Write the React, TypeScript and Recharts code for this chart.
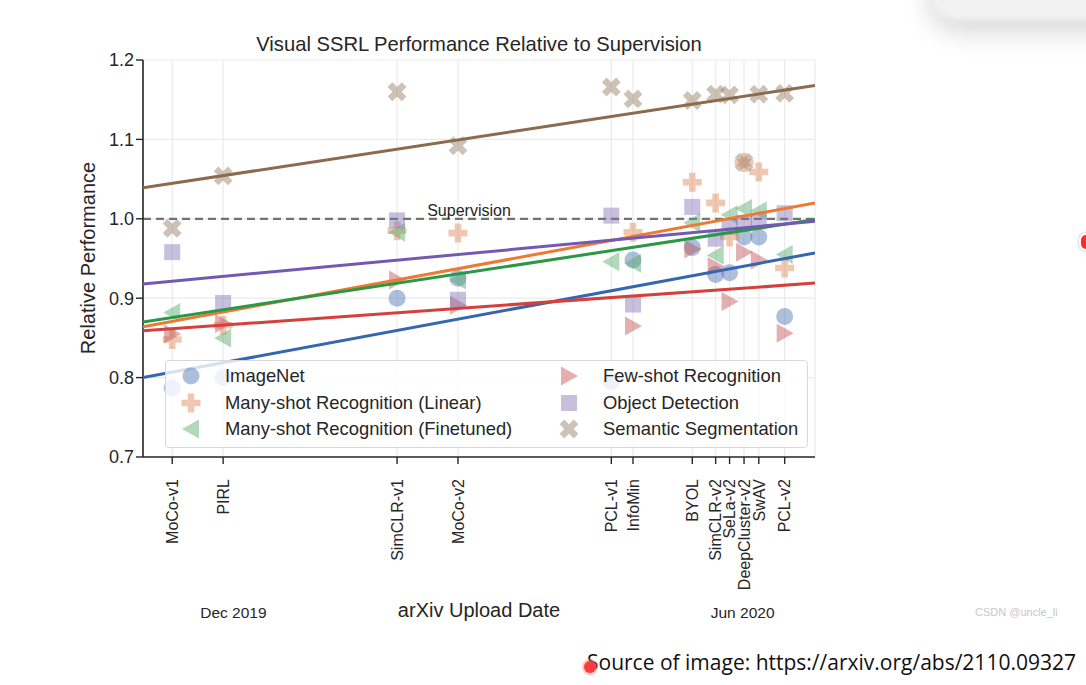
import React from 'react'
import { ScatterChart, Scatter, XAxis, YAxis, CartesianGrid, ReferenceLine } from 'recharts'

// methods on the x axis, upload date in days since 1 Dec 2019
const methods = ['MoCo-v1', 'PIRL', 'SimCLR-v1', 'MoCo-v2', 'PCL-v1', 'InfoMin', 'BYOL', 'SimCLR-v2', 'SeLa-v2', 'DeepCluster-v2', 'SwAV', 'PCL-v2']
const uploadDay = [-22, -3.7, 58.8, 80.7, 135.8, 143.6, 164.9, 173.3, 178.3, 183.5, 188.8, 198.1]
const monthTicks = [0, 183]
const monthLabels = ['Dec 2019', 'Jun 2020']
const yTicks = [0.7, 0.8, 0.9, 1.0, 1.1, 1.2]

// relative performance per task (null = not shown)
const imagenet = [0.787, 0.8, 0.9, 0.925, 0.795, 0.948, 0.964, 0.93, 0.932, 0.977, 0.977, 0.877]
const manyLinear = [0.848, 0.866, 0.985, 0.982, null, 0.983, 1.046, 1.02, 0.977, 1.071, 1.059, 0.938]
const manyFinetuned = [0.882, 0.85, 0.983, 0.923, 0.946, 0.944, 0.995, 0.954, 1.005, 1.013, 1.01, 0.955]
const fewShot = [0.855, 0.868, 0.923, 0.891, null, 0.865, 0.962, 0.94, 0.896, 0.958, 0.948, 0.856]
const detection = [0.958, 0.894, 0.998, 0.898, 1.004, 0.892, 1.015, 0.975, 0.99, 0.995, 0.997, 1.007]
const segmentation = [0.988, 1.054, 1.16, 1.092, 1.166, 1.151, 1.149, 1.157, 1.156, 1.071, 1.157, 1.158]

// fitted trend lines, value at the left and right end of the axis
const xDomain = [-32.5, 209]
const trendStart = [0.8, 0.864, 0.87, 0.859, 0.918, 1.039]
const trendEnd = [0.957, 1.02, 0.999, 0.919, 0.997, 1.168]

const seriesNames = ['ImageNet', 'Many-shot Recognition (Linear)', 'Many-shot Recognition (Finetuned)', 'Few-shot Recognition', 'Object Detection', 'Semantic Segmentation']
const seriesValues = [imagenet, manyLinear, manyFinetuned, fewShot, detection, segmentation]

const MARKERS = ['circle', 'plus', 'left', 'right', 'square', 'x']
const MARKER_COLORS = ['#4c72b0', '#dd8452', '#55a868', '#c44e52', '#8172b3', '#937860']
const LINE_COLORS = ['#3566b0', '#ec7a35', '#2b9847', '#d4403b', '#7359b1', '#8b6a4d']
const FONT = '"Liberation Sans", Arial, sans-serif'
const TXT = '#262626'

const crossPts = (a: number, t: number) => [
  [-t, -a], [t, -a], [t, -t], [a, -t], [a, t], [t, t], [t, a], [-t, a], [-t, t], [-a, t], [-a, -t], [-t, -t],
]

const Marker = ({ kind, cx, cy, fill }: { kind: string; cx: number; cy: number; fill: string }) => {
  const op = 0.45
  if (cx == null || cy == null) return <g />
  if (kind === 'circle') return <circle cx={cx} cy={cy} r={8.5} fill={fill} fillOpacity={op} />
  if (kind === 'square') return <rect x={cx - 8} y={cy - 8} width={16} height={16} fill={fill} fillOpacity={op} />
  if (kind === 'left') return <polygon points={`${cx - 9},${cy} ${cx + 8},${cy - 9.5} ${cx + 8},${cy + 9.5}`} fill={fill} fillOpacity={op} />
  if (kind === 'right') return <polygon points={`${cx + 9},${cy} ${cx - 8},${cy - 9.5} ${cx - 8},${cy + 9.5}`} fill={fill} fillOpacity={op} />
  if (kind === 'plus') {
    const pts = crossPts(9.5, 3.3).map(([x, y]) => `${cx + x},${cy + y}`).join(' ')
    return <polygon points={pts} fill={fill} fillOpacity={op} />
  }
  // filled "X"
  const pts = crossPts(10, 3.3)
    .map(([x, y]) => `${cx + (x - y) / Math.SQRT2},${cy + (x + y) / Math.SQRT2}`)
    .join(' ')
  return <polygon points={pts} fill={fill} fillOpacity={op} />
}

const XTick = ({ x, y, payload }: any) => {
  const name = methods[uploadDay.indexOf(payload.value)]
  const ty = y + 13
  return (
    <text x={x} y={ty} transform={`rotate(-90, ${x}, ${ty})`} textAnchor="end" dy="0.36em" fontSize={16} fill={TXT} fontFamily={FONT}>
      {name}
    </text>
  )
}

const LegendBox = () => (
  <div style={{
    position: 'absolute', left: 165, top: 360, width: 641, height: 86,
    background: 'rgba(255,255,255,0.8)', border: '1px solid #d8d8d8', borderRadius: 4,
  }}>
    {seriesNames.map((name, i) => {
      const col = Math.floor(i / 3)
      const row = i % 3
      return (
        <div key={name} style={{ position: 'absolute', left: 12 + col * 378, top: 2 + row * 26.5, height: 26, display: 'flex', alignItems: 'center' }}>
          <svg width={26} height={26}>
            <Marker kind={MARKERS[i]} cx={13} cy={13} fill={MARKER_COLORS[i]} />
          </svg>
          <span style={{ marginLeft: 21, fontSize: 18.4, color: TXT, fontFamily: FONT, whiteSpace: 'nowrap' }}>{name}</span>
        </div>
      )
    })}
  </div>
)

export default function App() {
  return (
    <div style={{ position: 'absolute', left: 0, top: 0, width: 1086, height: 685, background: '#fff', overflow: 'hidden', fontFamily: FONT }}>
      {/* soft shadow of a floating element in the screenshot, top right */}
      <div style={{ position: 'absolute', left: 930, top: -70, width: 200, height: 90, borderRadius: 30, background: 'rgba(0,0,0,0.05)', boxShadow: '0 10px 28px rgba(0,0,0,0.18)', filter: 'blur(3px)' }} />

      <div style={{ position: 'absolute', left: 143, width: 672, top: 33, textAlign: 'center', fontSize: 20.2, color: TXT }}>
        Visual SSRL Performance Relative to Supervision
      </div>
      <div style={{ position: 'absolute', left: 88, top: 258, transform: 'translate(-50%, -50%) rotate(-90deg)', fontSize: 20, color: TXT, whiteSpace: 'nowrap' }}>
        Relative Performance
      </div>

      <ScatterChart width={1086} height={685} margin={{ top: 60, right: 271, bottom: 0, left: 83 }} style={{ position: 'absolute', left: 0, top: 0 }}>
        <CartesianGrid xAxisId="main" stroke="#ebebeb" strokeWidth={1.2} />
        <XAxis
          xAxisId="main" type="number" dataKey="x" domain={xDomain} ticks={uploadDay} interval={0}
          allowDataOverflow height={228} tick={<XTick />} tickSize={7}
          tickLine={{ stroke: TXT, strokeWidth: 1.4 }} axisLine={{ stroke: TXT, strokeWidth: 1.6 }}
          label={{ value: 'arXiv Upload Date', position: 'insideTop', offset: 140, dy: 6, fontSize: 20, fill: TXT, fontFamily: FONT }}
        />
        <YAxis
          type="number" dataKey="y" domain={[0.7, 1.2]} ticks={yTicks} interval={0} allowDataOverflow width={60}
          tickFormatter={(v: number) => v.toFixed(1)} tickSize={7}
          tick={{ fill: TXT, fontSize: 18, fontFamily: FONT }}
          tickLine={{ stroke: TXT, strokeWidth: 1.4 }} axisLine={{ stroke: TXT, strokeWidth: 1.6 }}
        />
        <ReferenceLine
          xAxisId="main" y={1.0} stroke="#727272" strokeWidth={2.2} strokeDasharray="8 5"
          label={{ value: 'Supervision', position: 'center', dx: -10, dy: -8, fontSize: 16, fill: TXT, fontFamily: FONT }}
        />
        {/* month labels under the axis, placed through the x scale */}
        {monthTicks.map((d, i) => (
          <ReferenceLine
            key={monthLabels[i]} xAxisId="main" x={d} stroke="none" ifOverflow="visible"
            label={{ value: monthLabels[i], position: 'bottom', offset: 150, fontSize: 15.5, fill: TXT, fontFamily: FONT }}
          />
        ))}
        {seriesValues.map((vals, i) => (
          <Scatter
            key={seriesNames[i]}
            xAxisId="main"
            name={seriesNames[i]}
            data={methods.map((m, j) => ({ x: uploadDay[j], y: vals[j], method: m })).filter(d => d.y != null)}
            shape={(p: any) => <Marker kind={MARKERS[i]} cx={p.cx} cy={p.cy} fill={MARKER_COLORS[i]} />}
            isAnimationActive={false}
          />
        ))}
        {seriesNames.map((name, i) => (
          <Scatter
            key={'trend-' + name}
            xAxisId="main"
            data={[{ x: xDomain[0], y: trendStart[i] }, { x: xDomain[1], y: trendEnd[i] }]}
            line={{ stroke: LINE_COLORS[i], strokeWidth: 3 }}
            shape={() => <g />}
            isAnimationActive={false}
          />
        ))}
      </ScatterChart>

      <LegendBox />

      <div style={{ position: 'absolute', left: 975, top: 606, fontSize: 11, color: '#c8c8c8' }}>CSDN @uncle_li</div>
      <div style={{ position: 'absolute', left: 587, top: 648, fontSize: 21, color: '#111', fontFamily: '"Open Sans", "Noto Sans", sans-serif', whiteSpace: 'nowrap' }}>
        Source of image: https://arxiv.org/abs/2110.09327
      </div>
      <div style={{ position: 'absolute', left: 584, top: 661, width: 12, height: 12, borderRadius: 6, background: '#ff3b3b', boxShadow: '0 0 0 2px rgba(255,120,120,0.4)' }} />
      <div style={{ position: 'absolute', left: 1079, top: 233, width: 14, height: 14, borderRadius: 7, background: '#ff2a2a', border: '2px solid #fff', boxShadow: '0 0 3px rgba(0,0,0,0.3)' }} />
    </div>
  )
}
